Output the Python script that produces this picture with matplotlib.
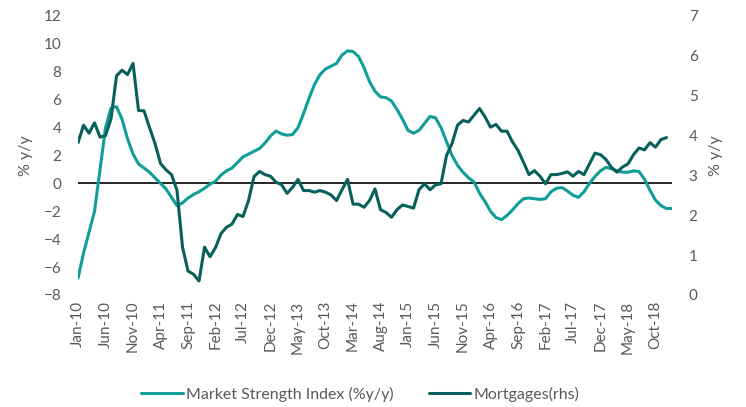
import matplotlib
matplotlib.use("Agg")
import matplotlib.pyplot as plt
import pandas as pd

# monthly categories, Jan-10 onwards
months = pd.date_range("2010-01-01", periods=109, freq="MS").strftime("%b-%y").tolist()

# Market Strength Index (%y/y), left axis
msi = [
    -6.8, -5.0, -3.5, -2.0, 1.0, 4.0, 5.4, 5.5, 4.6, 3.2,
    2.1, 1.4, 1.1, 0.8, 0.4, 0.0, -0.4, -1.0, -1.6, -1.4,
    -1.05, -0.8, -0.6, -0.35, -0.05, 0.15, 0.6, 0.9, 1.1, 1.5,
    1.9, 2.1, 2.3, 2.5, 2.9, 3.4, 3.75, 3.55, 3.45, 3.5,
    4.0, 5.0, 6.1, 7.1, 7.8, 8.2, 8.4, 8.6, 9.2, 9.5,
    9.45, 9.1, 8.3, 7.3, 6.6, 6.2, 6.15, 5.9, 5.3, 4.6,
    3.8, 3.6, 3.8, 4.3, 4.8, 4.7, 4.0, 3.0, 2.0, 1.3,
    0.8, 0.4, 0.1, -0.7, -1.3, -2.0, -2.45, -2.6, -2.3, -1.9,
    -1.45, -1.1, -1.05, -1.1, -1.15, -1.1, -0.6, -0.35, -0.3, -0.55,
    -0.85, -1.0, -0.6, 0.0, 0.5, 0.9, 1.15, 1.05, 0.9, 0.8,
    0.8, 0.9, 0.85, 0.3, -0.5, -1.2, -1.6, -1.8, -1.8,
]

# Mortgages (rhs)
mortgages = [
    3.82, 4.26, 4.06, 4.32, 3.96, 4.0, 4.42, 5.5, 5.64, 5.53,
    5.81, 4.63, 4.62, 4.2, 3.8, 3.3, 3.14, 3.02, 2.62, 1.2,
    0.6, 0.52, 0.35, 1.2, 0.96, 1.19, 1.54, 1.7, 1.78, 2.02,
    1.97, 2.37, 2.97, 3.1, 3.02, 2.98, 2.83, 2.77, 2.55, 2.70,
    2.90, 2.62, 2.62, 2.58, 2.62, 2.58, 2.51, 2.37, 2.64, 2.90,
    2.28, 2.28, 2.2, 2.37, 2.66, 2.14, 2.07, 1.95, 2.14, 2.26,
    2.22, 2.18, 2.64, 2.79, 2.64, 2.76, 2.79, 3.5, 3.8, 4.26,
    4.38, 4.34, 4.51, 4.68, 4.47, 4.21, 4.28, 4.11, 4.11, 3.84,
    3.63, 3.33, 3.02, 3.12, 2.98, 2.79, 3.02, 3.02, 3.05, 3.09,
    2.98, 3.1, 3.02, 3.29, 3.56, 3.52, 3.4, 3.2, 3.08, 3.21,
    3.29, 3.52, 3.69, 3.64, 3.82, 3.71, 3.9, 3.95,
]

teal = "#0F9E98"
dark = "#08605B"
grey = "#595959"

plt.rcParams["font.family"] = ["Lato", "DejaVu Sans"]

fig = plt.figure(figsize=(7.46, 4.07), dpi=100)
ax = fig.add_axes([0.1046, 0.2752, 0.7962, 0.6855])
ax2 = ax.twinx()

ax.plot(range(len(msi)), msi, color=teal, lw=2.2, solid_capstyle="round",
        label="Market Strength Index (%y/y)")
ax2.plot(range(len(mortgages)), mortgages, color=dark, lw=2.2, solid_capstyle="round",
         label="Mortgages(rhs)")
ax.axhline(0, color="black", lw=1.2, zorder=1)

ax.set_xlim(0, 108)
ax.set_ylim(-8, 12)
ax2.set_ylim(0, 7)
ax.set_yticks(range(-8, 13, 2))
ax2.set_yticks(range(0, 8))

ticks = list(range(0, len(months), 5))
ax.set_xticks(ticks)
ax.set_xticklabels([months[i] for i in ticks], rotation=90)

for a in (ax, ax2):
    for s in a.spines.values():
        s.set_visible(False)
    a.tick_params(length=0, labelsize=11, labelcolor=grey)
ax.tick_params(axis="y", pad=12)
ax2.tick_params(axis="y", pad=12)
ax.tick_params(axis="x", pad=4)

ax.set_ylabel("% y/y", fontsize=11.5, color=grey, labelpad=8)
ax2.set_ylabel("% y/y", fontsize=11.5, color=grey, labelpad=8)

h1, l1 = ax.get_legend_handles_labels()
h2, l2 = ax2.get_legend_handles_labels()
fig.legend(h1 + h2, l1 + l2, loc="center", bbox_to_anchor=(0.483, 0.032), ncol=2,
           frameon=False, fontsize=11.5, labelcolor=grey, handlelength=2.6,
           handletextpad=0.2, columnspacing=2.2)

fig.savefig("out.png", dpi=100)
